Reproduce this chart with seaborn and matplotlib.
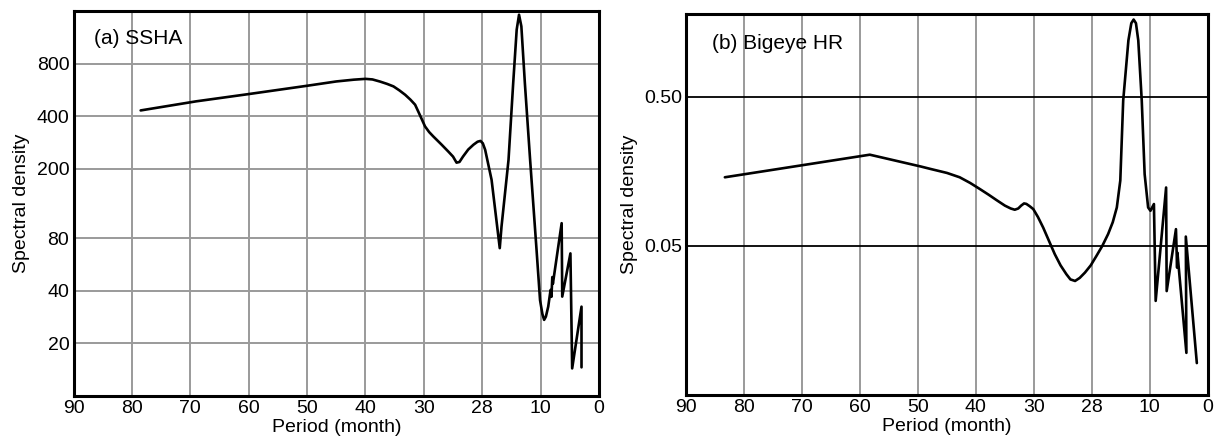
import matplotlib
matplotlib.use("Agg")
import matplotlib.pyplot as plt
import seaborn as sns
import pandas as pd

# Period axis: evenly spaced positions with their printed labels
period_ticks = [0, 1, 2, 3, 4, 5, 6, 7, 8, 9]
period_labels = ["90", "80", "70", "60", "50", "40", "30", "28", "10", "0"]

# (a) SSHA spectrum: position on the period axis and spectral density
ssha_pos = [1.15, 2.1, 3.0, 4.0, 4.5, 4.8, 5.0, 5.12, 5.25, 5.37, 5.48, 5.58,
            5.68, 5.77, 5.85, 5.93, 6.02, 6.09, 6.16, 6.3, 6.42, 6.5, 6.56,
            6.61, 6.67, 6.76, 6.85, 6.92, 6.97, 7.01, 7.05, 7.16, 7.30, 7.33,
            7.45, 7.53, 7.59, 7.63, 7.67, 7.73, 7.82, 7.93, 7.99, 8.03, 8.06,
            8.09, 8.13, 8.17, 8.185, 8.20, 8.21, 8.36, 8.37, 8.51, 8.54, 8.70,
            8.70]
ssha_val = [432, 487, 536, 598, 633, 648, 655, 650, 632, 613, 593, 563,
            531, 498, 466, 408, 350, 325, 307, 276, 251, 235, 217,
            219, 235, 258, 275, 286, 289, 280, 257, 173, 70.3, 93.4,
            225, 619, 1254, 1526, 1309, 619, 225, 68.7, 35.4, 29.5, 27.3,
            28.5, 32.5, 40.5, 37, 48, 44, 97.7, 37.1, 65.6, 14.4, 32.5,
            14.6]

# (b) Bigeye HR spectrum
bigeye_pos = [0.67, 3.17, 4.05, 4.21, 4.5, 4.72, 4.9, 5.07, 5.22, 5.36, 5.5,
              5.6, 5.67, 5.73, 5.78, 5.83, 5.87, 5.93, 5.99, 6.07, 6.16, 6.26,
              6.36, 6.46, 6.56, 6.63, 6.71, 6.79, 6.88, 6.98, 7.08, 7.18, 7.28,
              7.36, 7.43, 7.49, 7.54, 7.63, 7.68, 7.72, 7.76, 7.80, 7.86, 7.91,
              7.97, 8.01, 8.07, 8.10, 8.28, 8.29, 8.45, 8.47, 8.475, 8.63, 8.62,
              8.81]
bigeye_val = [0.144, 0.204, 0.170, 0.164, 0.154, 0.144, 0.132, 0.12, 0.11,
              0.101, 0.093, 0.089, 0.0873, 0.089, 0.093, 0.0962, 0.0955,
              0.092, 0.0881, 0.078, 0.0663, 0.054, 0.044, 0.037, 0.0323,
              0.0298, 0.0291, 0.0305, 0.0331, 0.037, 0.0429, 0.05, 0.06,
              0.072, 0.0904, 0.137, 0.47, 1.19, 1.55, 1.64, 1.55, 1.19,
              0.47, 0.151, 0.0904, 0.0859, 0.0953, 0.0214, 0.123, 0.0249,
              0.0647, 0.0357, 0.045, 0.0096, 0.0577, 0.0082]

ssha_yticks = [20, 40, 80, 200, 400, 800]
bigeye_yticks = [0.05, 0.5]
bigeye_ylabels = ["0.05", "0.50"]

sns.set_style("white")
plt.rcParams["font.family"] = ["Liberation Sans", "DejaVu Sans"]
plt.rcParams["text.color"] = "black"
plt.rcParams["axes.labelcolor"] = "black"
plt.rcParams["xtick.color"] = "black"
plt.rcParams["ytick.color"] = "black"

fig = plt.figure(figsize=(12.25, 4.45), dpi=100)
ax_a = fig.add_axes([0.060, 0.110, 0.429, 0.865])
ax_b = fig.add_axes([0.560, 0.112, 0.426, 0.856])

df_a = pd.DataFrame({"pos": ssha_pos, "val": ssha_val})
df_b = pd.DataFrame({"pos": bigeye_pos, "val": bigeye_val})

sns.lineplot(data=df_a, x="pos", y="val", sort=False, estimator=None,
             color="black", linewidth=1.9, ax=ax_a)
sns.lineplot(data=df_b, x="pos", y="val", sort=False, estimator=None,
             color="black", linewidth=1.9, ax=ax_b)

for ax in (ax_a, ax_b):
    ax.set_yscale("log")
    ax.set_xlim(0, 9)
    ax.set_xticks(period_ticks)
    ax.set_xticklabels(period_labels)
    ax.minorticks_off()
    ax.tick_params(axis="both", length=0, pad=3, labelsize=14)
    ax.set_xlabel("Period (month)", fontsize=14, labelpad=1)
    for sp in ax.spines.values():
        sp.set_visible(True)
        sp.set_color("black")
        sp.set_linewidth(2.2)
    ax.set_axisbelow(True)
    ax.xaxis.grid(True, color="#9a9a9a", linewidth=1.4)

ax_a.set_ylabel("Spectral density", fontsize=14, labelpad=5)
ax_b.set_ylabel("Spectral density", fontsize=14, labelpad=4)

# Panel (a): gray grid in both directions
ax_a.set_ylim(10, 1600)
ax_a.set_yticks(ssha_yticks)
ax_a.set_yticklabels([str(t) for t in ssha_yticks])
ax_a.minorticks_off()
ax_a.yaxis.grid(True, color="#9a9a9a", linewidth=1.4)
ax_a.text(0.039, 0.93, "(a) SSHA", transform=ax_a.transAxes,
          fontsize=15, va="center", ha="left")

# Panel (b): dark horizontal reference lines
ax_b.set_ylim(0.005, 1.78)
ax_b.set_yticks(bigeye_yticks)
ax_b.set_yticklabels(bigeye_ylabels)
ax_b.minorticks_off()
ax_b.yaxis.grid(True, color="black", linewidth=1.3)
ax_b.text(0.049, 0.923, "(b) Bigeye HR", transform=ax_b.transAxes,
          fontsize=15, va="center", ha="left")

fig.savefig("out.png", dpi=100, facecolor="white")
